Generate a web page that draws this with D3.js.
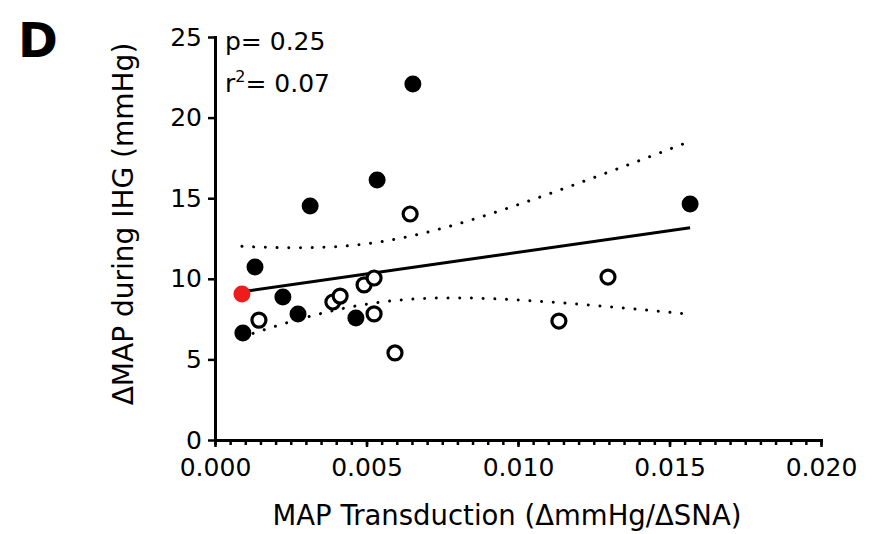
<!DOCTYPE html>
<html>
<head>
<meta charset="utf-8">
<script src="https://cdn.jsdelivr.net/npm/d3@7"></script>
<style>
  body { margin: 0; background: #fff; }
  text { font-family: "DejaVu Sans", sans-serif; fill: #000; }
</style>
</head>
<body>
<div id="chart"></div>
<script>
// values
const filledX = [0.00092, 0.00132, 0.00224, 0.00274, 0.00314, 0.00465, 0.00535, 0.00653, 0.01568];
const filledY = [6.64, 10.73, 8.87, 7.82, 14.52, 7.57, 16.13, 22.08, 14.64];
const openX = [0.00145, 0.00389, 0.00413, 0.00492, 0.00525, 0.00525, 0.00594, 0.00644, 0.01135, 0.01297];
const openY = [7.44, 8.56, 8.93, 9.62, 10.05, 7.82, 5.40, 14.02, 7.38, 10.11];
const redX = [0.00089];
const redY = [9.06];
const xTicks = [0, 0.005, 0.010, 0.015, 0.020];
const yTicks = [0, 5, 10, 15, 20, 25];
const stats = ["p= 0.25", "0.07"];

const W = 876, H = 534;
const svg = d3.select("#chart").append("svg")
  .attr("width", W).attr("height", H);

const x = d3.scaleLinear().domain([0, 0.02]).range([215, 821]);
const y = d3.scaleLinear().domain([0, 25]).range([440, 37]);

// all points for the fit
const allX = filledX.concat(openX, redX);
const allY = filledY.concat(openY, redY);
const n = allX.length;
const mx = d3.mean(allX), my = d3.mean(allY);
let sxx = 0, sxy = 0, syy = 0;
allX.forEach((v, i) => {
  sxx += (v - mx) * (v - mx);
  sxy += (v - mx) * (allY[i] - my);
  syy += (allY[i] - my) * (allY[i] - my);
});
const slope = sxy / sxx;
const icpt = my - slope * mx;
const s = Math.sqrt((syy - slope * sxy) / (n - 2));
const tCrit = 2.101; // 95%, df = 18
const fit = v => icpt + slope * v;
const half = v => tCrit * s * Math.sqrt(1 / n + (v - mx) * (v - mx) / sxx);

const x0 = d3.min(allX), x1 = d3.max(allX);
const xs = d3.range(0, 61).map(i => x0 + (x1 - x0) * i / 60);

const line = d3.line().x(d => x(d[0])).y(d => y(d[1]));

// confidence bands
[1, -1].forEach(sg => {
  svg.append("path")
    .attr("d", line(xs.map(v => [v, fit(v) + sg * half(v)])))
    .attr("fill", "none")
    .attr("stroke", "#000")
    .attr("stroke-width", 3)
    .attr("stroke-linecap", "round")
    .attr("stroke-dasharray", "0.01 11.7");
});

// regression line
svg.append("path")
  .attr("d", line([[x0, fit(x0)], [x1, fit(x1)]]))
  .attr("fill", "none")
  .attr("stroke", "#000")
  .attr("stroke-width", 3);

// axes
const xMinor = svg.append("g")
  .attr("transform", "translate(0,440)")
  .call(d3.axisBottom(x).tickValues(d3.range(0, 41).map(i => i * 0.0005))
    .tickSize(5).tickSizeOuter(0).tickFormat(""));
xMinor.select(".domain").remove();
xMinor.selectAll(".tick line").attr("stroke-width", 2.5);

const xAxis = svg.append("g")
  .attr("transform", "translate(0,440)")
  .call(d3.axisBottom(x).tickValues(xTicks).tickFormat(d3.format(".3f"))
    .tickSize(7).tickSizeOuter(0).tickPadding(11));
const yAxis = svg.append("g")
  .attr("transform", "translate(215,0)")
  .call(d3.axisLeft(y).tickValues(yTicks).tickSize(7).tickSizeOuter(0).tickPadding(6));

[xAxis, yAxis].forEach(a => {
  a.select(".domain").attr("stroke-width", 3);
  a.selectAll(".tick line").attr("stroke-width", 2.5);
  a.selectAll(".tick text").style("font-size", "25px").attr("fill", "#000");
});
svg.selectAll(".domain").attr("stroke-linecap", "square");

// points
svg.selectAll(".filled")
  .data(filledX.map((v, i) => [v, filledY[i]]))
  .enter().append("circle")
  .attr("cx", d => x(d[0])).attr("cy", d => y(d[1]))
  .attr("r", 8.5).attr("fill", "#000");

svg.selectAll(".open")
  .data(openX.map((v, i) => [v, openY[i]]))
  .enter().append("circle")
  .attr("cx", d => x(d[0])).attr("cy", d => y(d[1]))
  .attr("r", 7).attr("fill", "#fff")
  .attr("stroke", "#000").attr("stroke-width", 3.2);

svg.selectAll(".red")
  .data(redX.map((v, i) => [v, redY[i]]))
  .enter().append("circle")
  .attr("cx", d => x(d[0])).attr("cy", d => y(d[1]))
  .attr("r", 8.5).attr("fill", "#ee1c1c");

// titles
svg.append("text")
  .attr("x", 507).attr("y", 525)
  .attr("text-anchor", "middle")
  .style("font-size", "27.5px")
  .text("MAP Transduction (\u0394mmHg/\u0394SNA)");

svg.append("text")
  .attr("transform", "translate(133,224) rotate(-90)")
  .attr("text-anchor", "middle")
  .style("font-size", "28px")
  .text("\u0394MAP during IHG (mmHg)");

svg.append("text")
  .attr("x", 18).attr("y", 57)
  .style("font-size", "48px")
  .style("font-weight", "bold")
  .text("D");

// stats
svg.append("text")
  .attr("x", 225).attr("y", 50)
  .style("font-size", "25px")
  .text(stats[0]);

const r2 = svg.append("text")
  .attr("x", 225).attr("y", 92)
  .style("font-size", "25px");
r2.append("tspan").text("r");
r2.append("tspan").attr("dy", -10).style("font-size", "16px").text("2");
r2.append("tspan").attr("dy", 10).text("= " + stats[1]);
</script>
</body>
</html>
